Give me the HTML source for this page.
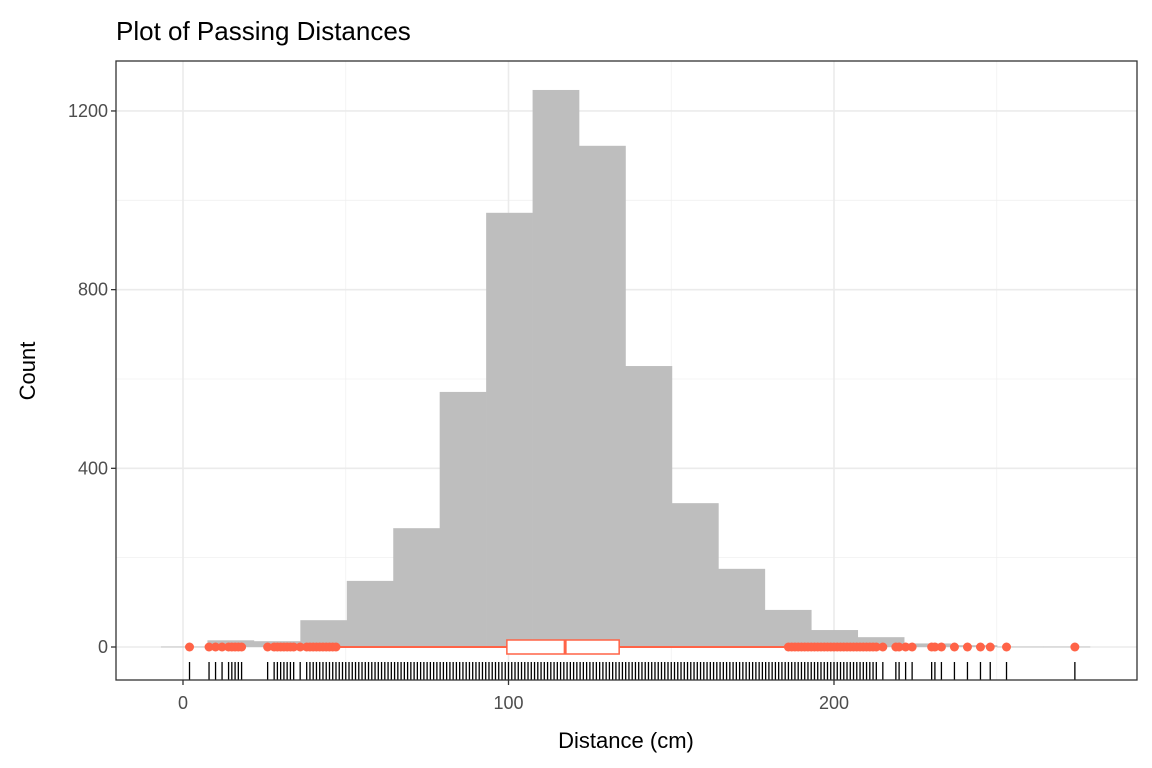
<!DOCTYPE html>
<html><head><meta charset="utf-8"><style>
html,body{margin:0;padding:0;background:#fff;}
svg{display:block;font-family:"Liberation Sans",Arial,sans-serif;}
</style></head><body>
<svg id="chart" width="1152" height="768" xmlns="http://www.w3.org/2000/svg">
<text x="116" y="40" font-size="26" fill="#000">Plot of Passing Distances</text>
<g id="grid"></g>
<g id="bars"></g>
<g id="box"></g>
<g id="rug"></g>
<g id="axes"></g>
<rect x="116" y="61" width="1021" height="619" fill="none" stroke="#333" stroke-width="1.3"/>
<text x="626" y="748" font-size="22" text-anchor="middle">Distance (cm)</text>
<text transform="translate(35,371) rotate(-90)" font-size="22" text-anchor="middle">Count</text>
</svg>
<script>
const binStart = -6.76;
const binWidth = 14.27;
const binCounts = [1,15,13,60,148,266,571,972,1247,1122,629,322,175,83,38,22,8,4,1,1];
const xTicks = [0,100,200];
const xMinor = [50,150,250];
const yTicks = [0,400,800,1200];
const yMinor = [200,600,1000];
const boxStats = [47,99.5,117.4,134,185.5]; // whisker lo, q1, median, q3, whisker hi
const outliersLow = [2,8,10,12,14,15,16,17,18,26,28,29,30,31,32,33,34,36,38,39,40,41,42,43,44,45,46,47];
const outliersHigh = [186,187,188,189,190,191,192,193,194,195,196,197,198,199,200,201,202,203,204,205,206,207,208,209,210,211,212,213,215,219,220,222,224,230,231,233,237,241,245,248,253,274];
const rugDenseRange = [48,185];

const NS="http://www.w3.org/2000/svg";
const X=v=>183+v*3.255;
const Y=v=>647-v*0.4467;
const L=116,R=1137,T=61,B=680;
function mk(tag,attrs,parent){const e=document.createElementNS(NS,tag);for(const k in attrs)e.setAttribute(k,attrs[k]);document.getElementById(parent).appendChild(e);return e;}

xMinor.forEach(v=>{const e=mk('line',{x1:X(v),x2:X(v),y1:T,y2:B,stroke:'#f0f0f0','stroke-width':0.8},'grid');

});
yMinor.forEach(v=>{const e=mk('line',{x1:L,x2:R,y1:Y(v),y2:Y(v),stroke:'#f0f0f0','stroke-width':0.8},'grid');

});
xTicks.forEach(v=>{const e=mk('line',{x1:X(v),x2:X(v),y1:T,y2:B,stroke:'#ebebeb','stroke-width':1.6},'grid');

});
yTicks.forEach(v=>{const e=mk('line',{x1:L,x2:R,y1:Y(v),y2:Y(v),stroke:'#ebebeb','stroke-width':1.6},'grid');

});

binCounts.forEach((c,i)=>{const x0=X(binStart+i*binWidth),x1=X(binStart+(i+1)*binWidth);
const e=mk('rect',{x:x0,y:Y(c),width:x1-x0+0.3,height:Math.max(Y(0)-Y(c),0.8),fill:'#bebebe'},'bars');

});

const col='#ff6347';
let e=mk('line',{x1:X(boxStats[0]),x2:X(boxStats[1]),y1:647,y2:647,stroke:col,'stroke-width':2},'box');


e=mk('line',{x1:X(boxStats[3]),x2:X(boxStats[4]),y1:647,y2:647,stroke:col,'stroke-width':2},'box');


e=mk('rect',{x:X(boxStats[1]),y:640,width:X(boxStats[3])-X(boxStats[1]),height:14,fill:'#fff',stroke:col,'stroke-width':1.5},'box');


e=mk('line',{x1:X(boxStats[2]),x2:X(boxStats[2]),y1:640,y2:654,stroke:col,'stroke-width':3},'box');


outliersLow.concat(outliersHigh).forEach(v=>{const p=mk('circle',{cx:X(v),cy:647,r:4.5,fill:col},'box');

});

const rugVals=outliersLow.slice();
for(let v=rugDenseRange[0];v<=rugDenseRange[1];v++)rugVals.push(v);
outliersHigh.forEach(v=>rugVals.push(v));
rugVals.forEach(v=>{const r=mk('line',{x1:X(v),x2:X(v),y1:662,y2:680,stroke:'#000','stroke-width':1.3},'rug');

});

xTicks.forEach(v=>{const t=mk('line',{x1:X(v),x2:X(v),y1:B,y2:B+5,stroke:'#333','stroke-width':1.3},'axes');


const l=mk('text',{x:X(v),y:709,'font-size':18,'text-anchor':'middle',fill:'#4d4d4d'},'axes');l.textContent=v;

});
yTicks.forEach(v=>{const t=mk('line',{x1:L-5,x2:L,y1:Y(v),y2:Y(v),stroke:'#333','stroke-width':1.3},'axes');


const l=mk('text',{x:L-8,y:Y(v)+6,'font-size':18,'text-anchor':'end',fill:'#4d4d4d'},'axes');l.textContent=v;

});
</script>
</body></html>
